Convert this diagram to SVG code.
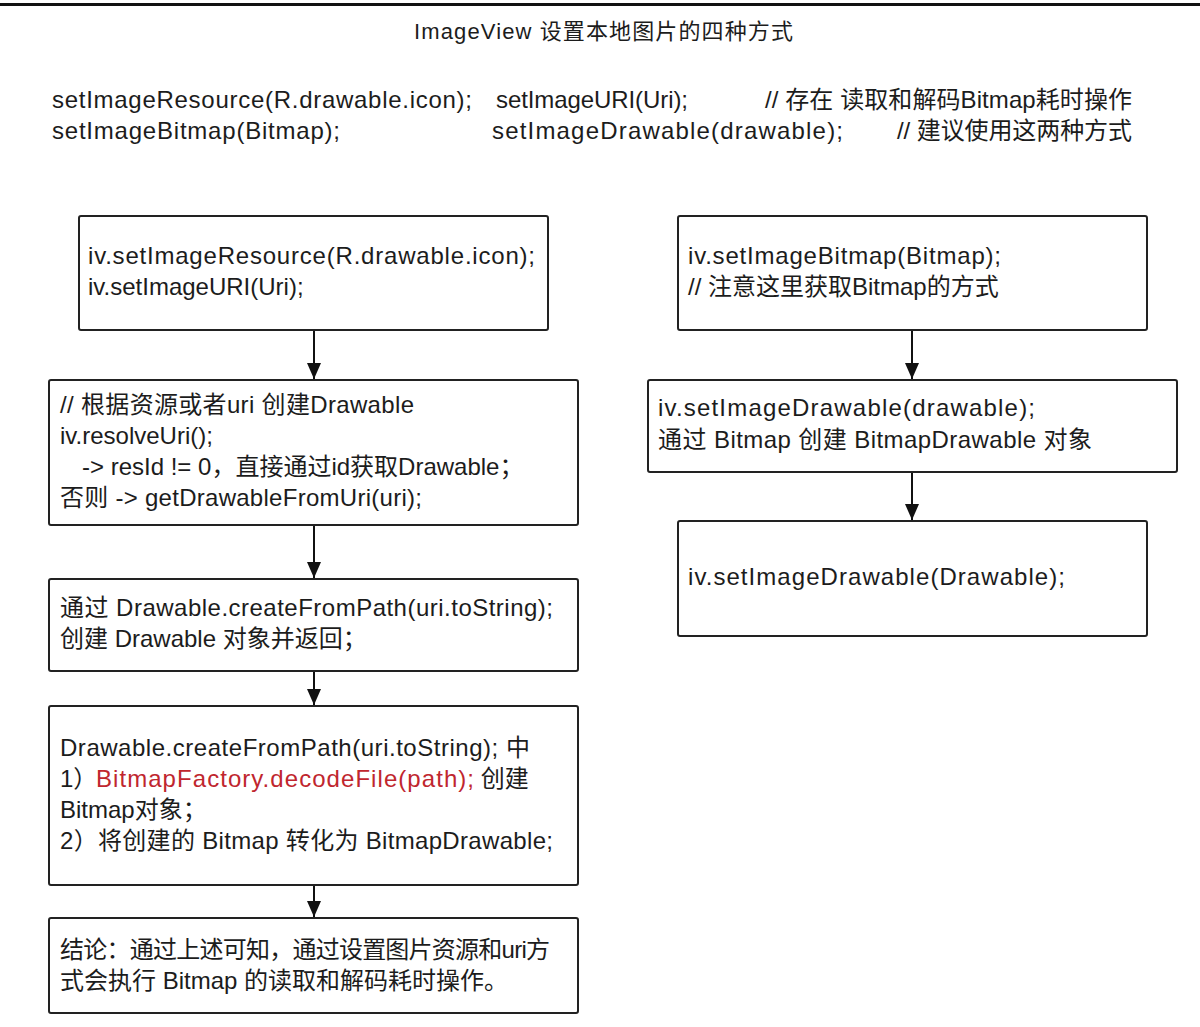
<svg xmlns="http://www.w3.org/2000/svg" width="1200" height="1027" viewBox="0 0 1200 1027">
<defs>
<style>
text{font-family:"Liberation Sans","Noto Sans CJK SC",sans-serif;font-size:24px;fill:#1c1c1c}
.title{font-size:22px}
.box{fill:#fff;stroke:#222;stroke-width:2}
.red{fill:#c0262e}
.conn{stroke:#111;stroke-width:2;fill:none}
</style>
<marker id="arr" markerUnits="userSpaceOnUse" markerWidth="16" markerHeight="14" viewBox="0 0 16 14" refX="16" refY="7" orient="auto">
<path d="M0,0 L16,7 L0,14 Z" fill="#111"/>
</marker>
</defs>
<rect x="0" y="0" width="1200" height="1027" fill="#fff"/>
<rect x="0" y="3" width="1200" height="3" fill="#111"/>
<text class="title" x="414" y="39" textLength="379" lengthAdjust="spacing">ImageView 设置本地图片的四种方式</text>
<g id="header">
<text x="52" y="108" textLength="420" lengthAdjust="spacing">setImageResource(R.drawable.icon);</text>
<text x="496" y="108" textLength="192" lengthAdjust="spacing">setImageURI(Uri);</text>
<text x="765" y="108" textLength="367" lengthAdjust="spacing">// 存在 读取和解码Bitmap耗时操作</text>
<text x="52" y="139" textLength="288" lengthAdjust="spacing">setImageBitmap(Bitmap);</text>
<text x="492" y="139" textLength="351" lengthAdjust="spacing">setImageDrawable(drawable);</text>
<text x="897" y="139" textLength="235" lengthAdjust="spacing">// 建议使用这两种方式</text>
</g>
<g id="nodeA">
<rect class="box" x="79" y="216" width="469" height="114" rx="2"/>
<text x="88" y="264" textLength="447" lengthAdjust="spacing">iv.setImageResource(R.drawable.icon);</text>
<text x="88" y="295">iv.setImageURI(Uri);</text>
</g>
<g id="nodeB">
<rect class="box" x="49" y="380" width="529" height="145" rx="2"/>
<text x="60" y="413" textLength="354" lengthAdjust="spacing">// 根据资源或者uri 创建Drawable</text>
<text x="60" y="444">iv.resolveUri();</text>
<text x="82" y="475">-&gt; resId != 0，直接通过id获取Drawable；</text>
<text x="60" y="506" textLength="362" lengthAdjust="spacing">否则 -&gt; getDrawableFromUri(uri);</text>
</g>
<g id="nodeC">
<rect class="box" x="49" y="579" width="529" height="92" rx="2"/>
<text x="60" y="616" textLength="493" lengthAdjust="spacing">通过 Drawable.createFromPath(uri.toString);</text>
<text x="60" y="647">创建 Drawable 对象并返回；</text>
</g>
<g id="nodeD">
<rect class="box" x="49" y="706" width="529" height="179" rx="2"/>
<text x="60" y="756" textLength="470" lengthAdjust="spacing">Drawable.createFromPath(uri.toString); 中</text>
<text x="60" y="787">1）<tspan class="red" x="96" textLength="378" lengthAdjust="spacing">BitmapFactory.decodeFile(path);</tspan><tspan x="474"> 创建</tspan></text>
<text x="60" y="818">Bitmap对象；</text>
<text x="60" y="849" textLength="493" lengthAdjust="spacing">2）将创建的 Bitmap 转化为 BitmapDrawable;</text>
</g>
<g id="nodeE">
<rect class="box" x="49" y="918" width="529" height="95" rx="2"/>
<text x="60" y="958" textLength="490" lengthAdjust="spacing">结论：通过上述可知，通过设置图片资源和uri方</text>
<text x="60" y="989">式会执行 Bitmap 的读取和解码耗时操作。</text>
</g>
<g id="nodeF">
<rect class="box" x="678" y="216" width="469" height="114" rx="2"/>
<text x="688" y="264" textLength="313" lengthAdjust="spacing">iv.setImageBitmap(Bitmap);</text>
<text x="688" y="295">// 注意这里获取Bitmap的方式</text>
</g>
<g id="nodeG">
<rect class="box" x="648" y="380" width="529" height="92" rx="2"/>
<text x="658" y="416" textLength="377" lengthAdjust="spacing">iv.setImageDrawable(drawable);</text>
<text x="658" y="448" textLength="434" lengthAdjust="spacing">通过 Bitmap 创建 BitmapDrawable 对象</text>
</g>
<g id="nodeH">
<rect class="box" x="678" y="521" width="469" height="115" rx="2"/>
<text x="688" y="585" textLength="377" lengthAdjust="spacing">iv.setImageDrawable(Drawable);</text>
</g>
<g id="connectors">
<line class="conn" x1="314" y1="331" x2="314" y2="379" marker-end="url(#arr)"/>
<line class="conn" x1="314" y1="526" x2="314" y2="578" marker-end="url(#arr)"/>
<line class="conn" x1="314" y1="672" x2="314" y2="705" marker-end="url(#arr)"/>
<line class="conn" x1="314" y1="886" x2="314" y2="917" marker-end="url(#arr)"/>
<line class="conn" x1="912" y1="331" x2="912" y2="379" marker-end="url(#arr)"/>
<line class="conn" x1="912" y1="473" x2="912" y2="520" marker-end="url(#arr)"/>
</g>
</svg>
